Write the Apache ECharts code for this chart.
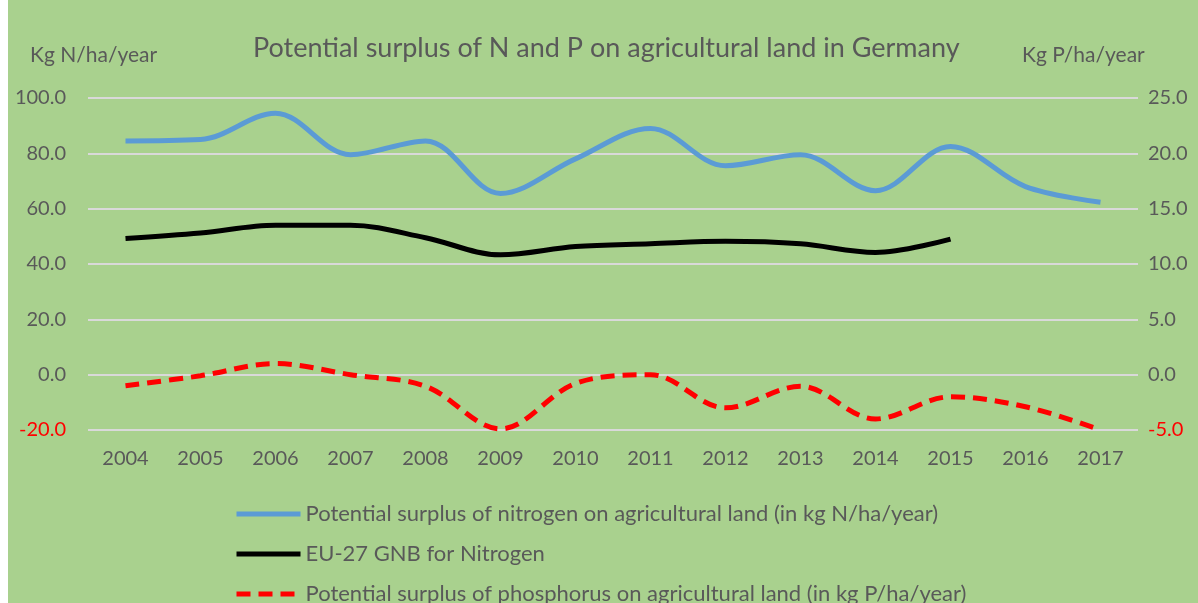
<!DOCTYPE html>
<html>
<head>
<meta charset="utf-8">
<script src="https://cdn.jsdelivr.net/npm/echarts@6/dist/echarts.min.js"></script>
<style>
  html, body { margin: 0; padding: 0; background: #fff; }
  #chart { position: absolute; left: 8px; top: 0; width: 1190px; height: 603px; }
</style>
</head>
<body>
<div id="chart"></div>
<script>
var years = ['2004','2005','2006','2007','2008','2009','2010','2011','2012','2013','2014','2015','2016','2017'];
var nitrogen = [84.5, 85, 94.5, 79.5, 84.5, 65.5, 78, 89, 75.5, 79.5, 66.5, 82.5, 68, 62.3];
var gnb = [49.2, 51.2, 54, 54, 49.5, 43.3, 46.3, 47.3, 48.2, 47.3, 44.2, 49, null, null];
var phosphorus = [-1.0, -0.1, 1.0, 0.0, -1.05, -4.9, -0.8, 0.0, -3.0, -1.05, -4.0, -2.0, -2.9, -5.0];

var font = 'Lato';
var grey = '#595959';

var chart = echarts.init(document.getElementById('chart'));

function fmt(min) {
    return function (v) {
        var s = v.toFixed(1);
        return v === min ? '{r|' + s + '}' : s;
    };
}

var option = {
    backgroundColor: '#a9d18e',
    animation: false,
    title: [{
        text: 'Potential surplus of N and P on agricultural land in Germany',
        left: 240,
        top: 30,
        textStyle: { color: grey, fontFamily: font, fontSize: 27, fontWeight: 'normal' }
    }, {
        text: 'Kg N/ha/year',
        left: 17,
        top: 40,
        textStyle: { color: grey, fontFamily: font, fontSize: 21, fontWeight: 'normal' }
    }, {
        text: 'Kg P/ha/year',
        left: 1009,
        top: 40,
        textStyle: { color: grey, fontFamily: font, fontSize: 21, fontWeight: 'normal' }
    }],
    grid: { left: 80, right: 60, top: 98, bottom: 173 },
    legend: {
        orient: 'vertical',
        left: 226,
        top: 503,
        height: 140,
        padding: 0,
        itemWidth: 64,
        itemHeight: 20,
        itemGap: 18,
        itemStyle: { opacity: 0 },
        lineStyle: { width: 5 },
        textStyle: { color: grey, fontFamily: font, fontSize: 22, lineHeight: 20 },
        data: [
            'Potential surplus of nitrogen on agricultural land (in kg N/ha/year)',
            'EU-27 GNB for Nitrogen',
            'Potential surplus of phosphorus on agricultural land (in kg P/ha/year)'
        ]
    },
    xAxis: {
        type: 'category',
        data: years,
        boundaryGap: true,
        axisLine: { show: false },
        axisTick: { show: false },
        axisLabel: { color: grey, fontFamily: font, fontSize: 20, margin: 19 }
    },
    yAxis: [{
        type: 'value',
        min: -20,
        max: 100,
        interval: 20,
        axisLine: { show: false },
        axisTick: { show: false },
        splitLine: { lineStyle: { color: '#d9d9d9', width: 2 } },
        axisLabel: {
            color: grey, fontFamily: font, fontSize: 20, margin: 22,
            formatter: fmt(-20),
            rich: { r: { color: '#ff0000', fontFamily: font, fontSize: 20 } }
        }
    }, {
        type: 'value',
        min: -5,
        max: 25,
        interval: 5,
        axisLine: { show: false },
        axisTick: { show: false },
        splitLine: { show: false },
        axisLabel: {
            color: grey, fontFamily: font, fontSize: 20, margin: 10,
            formatter: fmt(-5),
            rich: { r: { color: '#ff0000', fontFamily: font, fontSize: 20 } }
        }
    }],
    series: [{
        name: 'Potential surplus of nitrogen on agricultural land (in kg N/ha/year)',
        type: 'line',
        data: nitrogen,
        smooth: 0.35,
        symbol: 'none',
        lineStyle: { color: '#5b9bd5', width: 5 },
        itemStyle: { color: '#5b9bd5' }
    }, {
        name: 'EU-27 GNB for Nitrogen',
        type: 'line',
        data: gnb,
        smooth: 0.35,
        symbol: 'none',
        lineStyle: { color: '#000000', width: 5 },
        itemStyle: { color: '#000000' }
    }, {
        name: 'Potential surplus of phosphorus on agricultural land (in kg P/ha/year)',
        type: 'line',
        yAxisIndex: 1,
        data: phosphorus,
        smooth: 0.35,
        symbol: 'none',
        lineStyle: { color: '#ff0000', width: 5, type: [14, 8] },
        itemStyle: { color: '#ff0000' }
    }]
};

chart.setOption(option);
</script>
</body>
</html>
